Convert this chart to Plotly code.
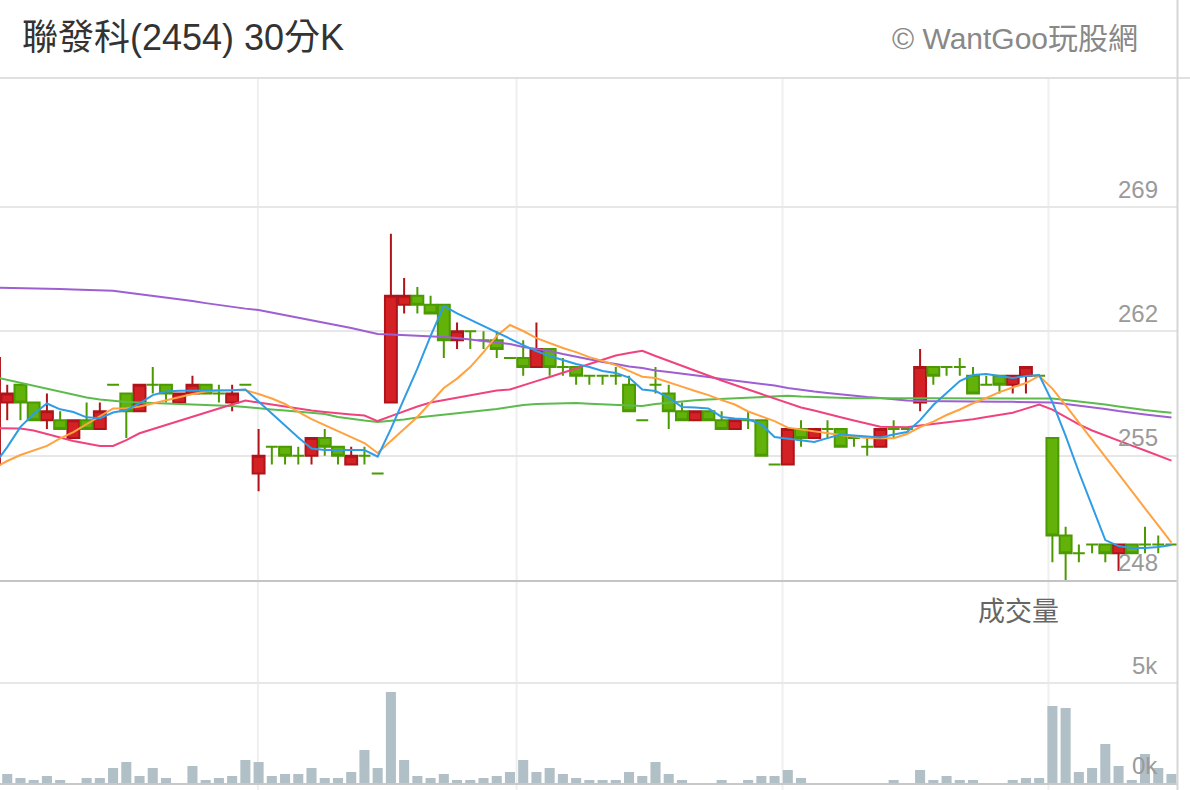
import plotly.graph_objects as go

# ---------------- data ----------------
opens = [254.5, 258, 259, 258, 257, 257, 256, 257, 256.5, 259,
         258.5, 257.5, 259, 259, 258, 258.5, 259, 258.5, 258, 259,
         254, 255.5, 255.5, 255, 255, 256, 255.5, 254.5, 255, 254,
         258, 263.5, 264, 263.5, 263.5, 261.5, 262, 261.5, 261.5, 260.5,
         260.5, 260, 261, 260, 260, 259.5, 259.5, 259.5, 259, 257,
         259, 258.5, 257.5, 257, 257.5, 257, 256.5, 257, 257, 254.5,
         254.5, 256.5, 256, 256.5, 256.5, 256, 255.5, 255.5, 256.5, 256.5,
         258, 260, 260, 260, 259.5, 259, 259.5, 259, 259.5, 259.5,
         256, 250.5, 249.5, 250, 250, 249.5, 250, 250, 250, 250]
highs = [261, 259, 259, 258, 258.5, 257.5, 257, 258, 258, 259,
         258.5, 259, 260, 259, 258.5, 259.5, 259, 259, 259, 259,
         256.5, 255.5, 255.5, 255.5, 256, 256.5, 255.5, 255.5, 255.5, 254,
         267.5, 265, 264.5, 264, 263.5, 262.5, 262, 262, 262, 260.5,
         261.5, 262.5, 261, 260.5, 260, 259.5, 259.5, 260, 259.5, 257,
         260, 259, 258, 257.5, 257.5, 257.5, 257, 257.5, 257, 254.5,
         256.5, 257, 256.5, 257, 256.5, 256, 256, 256.5, 257, 256.5,
         261, 260, 260, 260.5, 260, 259.5, 259.5, 259.5, 260, 259.5,
         256, 251, 250, 250, 250, 250, 250, 251, 250.5, 250]
lows = [254.5, 257, 257, 257, 256.5, 256.5, 256, 256.5, 256.5, 259,
        256, 257.5, 258.5, 258, 258, 258.5, 258.5, 258, 257.5, 259,
        253, 254.5, 254.5, 254.5, 254.5, 255, 254.5, 254.5, 254.5, 254,
        258, 263, 263, 263, 260.5, 261, 261, 261, 260.5, 260.5,
        259.5, 260, 259.5, 259.5, 259, 259, 259, 259, 257.5, 257,
        258.5, 256.5, 257, 257, 257, 256.5, 256.5, 256.5, 255, 254.5,
        254.5, 255.5, 256, 256, 255.5, 255.5, 255, 255.5, 256, 256.5,
        257.5, 259, 259.5, 259.5, 258.5, 259, 258.5, 258.5, 258.5, 259.5,
        249, 248, 249, 249.5, 249, 248.5, 249.5, 249.5, 249.5, 250]
closes = [260.5, 258.5, 258, 257, 257.5, 256.5, 257, 256.5, 257.5, 259,
          257.5, 259, 259, 258.5, 258.5, 259, 258.5, 258.5, 258.5, 259,
          255, 255.5, 255, 255, 256, 255.5, 255, 255, 255, 254,
          264, 264, 263.5, 263, 261.5, 262, 262, 261.5, 261, 260.5,
          260, 261, 260, 260, 259.5, 259.5, 259.5, 259.5, 257.5, 257,
          259, 257.5, 257, 257.5, 257, 256.5, 257, 257, 255, 254.5,
          256.5, 256, 256.5, 256.5, 255.5, 256, 255.5, 256.5, 256.5, 256.5,
          260, 259.5, 260, 260, 258.5, 259, 259, 259.5, 260, 259.5,
          250.5, 249.5, 249.5, 250, 249.5, 250, 249.5, 250, 250, 250]
volume_k = [2.3, 0.45, 0.25, 0.15, 0.35, 0.15, 0, 0.25, 0.25, 0.75,
            1.05, 0.35, 0.75, 0.25, 0, 0.85, 0.15, 0.25, 0.35, 1.15,
            1.05, 0.35, 0.45, 0.45, 0.75, 0.25, 0.25, 0.55, 1.65, 0.75,
            4.55, 1.15, 0.35, 0.25, 0.45, 0.15, 0.15, 0.25, 0.35, 0.55,
            1.15, 0.55, 0.75, 0.45, 0.25, 0.15, 0.15, 0.15, 0.55, 0.35,
            1.05, 0.45, 0.15, 0, 0, 0.15, 0, 0.15, 0.35, 0.35,
            0.65, 0.25, 0, 0, 0, 0, 0, 0, 0.15, 0,
            0.65, 0.15, 0.35, 0.15, 0.15, 0, 0, 0.15, 0.25, 0.25,
            3.85, 3.75, 0.55, 0.75, 1.95, 0.85, 0.15, 1.45, 0.75, 0.45]

ma_blue = [254.47, 255.48, 256.62, 257.35, 257.94, 257.61, 257.46, 257.16, 257.11, 257.43,
           257.57, 257.95, 258.41, 258.61, 258.66, 258.66, 258.67, 258.68, 258.69, 258.73,
           258.05, 257.37, 256.70, 256.02, 255.40, 255.32, 255.32, 255.32, 255.32, 254.94,
           256.51, 258.21, 259.90, 261.74, 263.43, 263.01, 262.65, 262.29, 261.91, 261.55,
           261.23, 260.89, 260.61, 260.39, 260.16, 259.99, 259.77, 259.66, 259.40, 258.72,
           258.64, 258.27, 257.74, 257.71, 257.66, 257.18, 257.09, 257.05, 256.77, 256.05,
           255.96, 255.86, 255.77, 255.99, 256.19, 256.13, 256.08, 256.03, 256.19, 256.33,
           257.00, 257.85, 258.53, 259.20, 259.54, 259.60, 259.49, 259.37, 259.49, 259.54,
           258.02, 256.11, 254.08, 252.17, 250.25, 249.91, 249.80, 249.80, 249.86, 249.97]
ma_orange = [254.31, 254.70, 255.04, 255.29, 255.55, 255.98, 256.33, 256.78, 257.23, 257.66,
             257.67, 257.77, 257.94, 258.13, 258.30, 258.47, 258.61, 258.67, 258.68, 258.69,
             258.47, 258.22, 257.91, 257.46, 257.06, 256.73, 256.36, 256.05, 255.71, 255.15,
             255.80, 256.50, 257.18, 258.02, 258.81, 259.34, 259.99, 260.83, 261.74, 262.36,
             262.02, 261.62, 261.34, 261.06, 260.83, 260.55, 260.33, 260.10, 259.77, 259.45,
             259.37, 259.15, 258.89, 258.64, 258.41, 258.13, 257.88, 257.49, 257.20, 256.95,
             256.58, 256.47, 256.36, 256.25, 256.16, 256.08, 255.99, 255.98, 255.98, 256.22,
             256.61, 256.92, 257.29, 257.60, 257.95, 258.25, 258.58, 258.84, 259.09, 259.49,
             258.78, 257.83, 256.84, 255.88, 254.93, 253.97, 252.98, 252.03, 251.07, 250.11]
ma_pink = [256.54, 256.54, 256.53, 256.42, 256.22, 256.00, 255.83, 255.69, 255.55, 255.55,
           255.88, 256.26, 256.50, 256.73, 256.95, 257.18, 257.43, 257.66, 257.88, 258.11,
           257.99, 257.88, 257.74, 257.65, 257.54, 257.46, 257.37, 257.32, 257.26, 256.95,
           257.23, 257.51, 257.77, 257.99, 258.13, 258.27, 258.41, 258.55, 258.67, 258.73,
           258.98, 259.20, 259.43, 259.65, 259.91, 260.16, 260.41, 260.64, 260.78, 260.91,
           260.61, 260.33, 260.05, 259.77, 259.49, 259.23, 258.98, 258.73, 258.47, 258.19,
           257.96, 257.71, 257.54, 257.37, 257.16, 256.98, 256.81, 256.63, 256.61, 256.60,
           256.70, 256.78, 256.89, 256.98, 257.05, 257.18, 257.29, 257.42, 257.65, 257.88,
           257.59, 257.19, 256.76, 256.42, 256.15, 255.88, 255.57, 255.29, 255.01, 254.72]
ma_green = [259.43, 259.27, 259.10, 258.93, 258.76, 258.60, 258.44, 258.27, 258.16, 258.08,
            258.02, 257.99, 257.96, 257.95, 257.94, 257.91, 257.88, 257.85, 257.80, 257.74,
            257.65, 257.60, 257.54, 257.49, 257.43, 257.35, 257.18, 257.07, 256.98, 256.90,
            256.95, 257.04, 257.15, 257.23, 257.32, 257.40, 257.46, 257.53, 257.63, 257.74,
            257.85, 257.91, 257.94, 257.96, 257.96, 257.92, 257.89, 257.85, 257.82, 257.80,
            257.91, 257.99, 258.05, 258.12, 258.16, 258.20, 258.24, 258.27, 258.30, 258.36,
            258.37, 258.33, 258.30, 258.27, 258.26, 258.24, 258.24, 258.23, 258.23, 258.23,
            258.24, 258.24, 258.24, 258.24, 258.24, 258.25, 258.26, 258.26, 258.26, 258.26,
            258.22, 258.13, 258.05, 257.98, 257.88, 257.77, 257.65, 257.57, 257.49, 257.42]
ma_purple = [264.47, 264.46, 264.44, 264.42, 264.41, 264.38, 264.36, 264.33, 264.31, 264.29,
             264.19, 264.10, 264.02, 263.92, 263.82, 263.71, 263.59, 263.48, 263.37, 263.28,
             263.20, 263.06, 262.92, 262.78, 262.64, 262.50, 262.36, 262.19, 262.02, 261.85,
             261.82, 261.79, 261.75, 261.72, 261.68, 261.62, 261.54, 261.46, 261.37, 261.29,
             261.12, 261.01, 260.89, 260.72, 260.56, 260.44, 260.27, 260.16, 260.02, 259.94,
             259.80, 259.71, 259.63, 259.54, 259.43, 259.32, 259.23, 259.15, 259.06, 258.95,
             258.81, 258.70, 258.61, 258.53, 258.44, 258.39, 258.30, 258.25, 258.16, 258.11,
             258.08, 258.08, 258.08, 258.07, 258.06, 258.05, 258.04, 258.03, 258.02, 258.02,
             257.99, 257.91, 257.82, 257.74, 257.63, 257.51, 257.40, 257.32, 257.23, 257.15]

price_ticks = [248, 255, 262, 269]
volume_ticks = [0, 5]
volume_tick_labels = ["0k", "5k"]
title_text = "聯發科(2454) 30分K"
watermark_text = "© WantGoo玩股網"
volume_title = "成交量"

# ---------------- styling ----------------
W, H = 1190, 790
N = len(closes)
x = list(range(N))
RED_FILL, RED_LINE = "#d42126", "#ae141a"
GRN_FILL, GRN_LINE = "#62b20a", "#4c9a02"
FONT = "Liberation Sans, Arial, Noto Sans CJK TC, sans-serif"

up = [c > o for o, c in zip(opens, closes)]
down = [not u for u in up]


def pick(vals, mask):
    return [v if m else None for v, m in zip(vals, mask)]


fig = go.Figure()

# moving averages (drawn below candles)
for vals, col in [(ma_purple, "#9d5fd2"), (ma_green, "#5dbb4d"), (ma_pink, "#f0437d"),
                  (ma_orange, "#ffa23f"), (ma_blue, "#2f9ce6")]:
    fig.add_trace(go.Scatter(x=x, y=vals, mode="lines", line=dict(color=col, width=2),
                             hoverinfo="skip", showlegend=False, xaxis="x", yaxis="y"))

# up candles (red)
fig.add_trace(go.Candlestick(
    x=x, open=pick(opens, up), high=pick(highs, up), low=pick(lows, up), close=pick(closes, up),
    increasing=dict(fillcolor=RED_FILL, line=dict(color=RED_LINE, width=2)),
    decreasing=dict(fillcolor=RED_FILL, line=dict(color=RED_LINE, width=2)),
    showlegend=False, xaxis="x", yaxis="y"))
# down / flat candles (green)
fig.add_trace(go.Candlestick(
    x=x, open=pick(opens, down), high=pick(highs, down), low=pick(lows, down), close=pick(closes, down),
    increasing=dict(fillcolor=GRN_FILL, line=dict(color=GRN_LINE, width=2)),
    decreasing=dict(fillcolor=GRN_FILL, line=dict(color=GRN_LINE, width=2)),
    showlegend=False, xaxis="x", yaxis="y"))

# volume
fig.add_trace(go.Bar(x=x, y=volume_k, marker=dict(color="#b1bfc7", line=dict(width=0)),
                     width=0.76, showlegend=False, xaxis="x2", yaxis="y2", hoverinfo="skip"))

step_px = 13.23
plot_w = W - 12
x0 = 6 / step_px
x1 = x0 + plot_w / step_px

main_dom = [210 / H, 712 / H]
vol_dom = [7 / H, 200 / H]
px_per_unit = 17.76
y_top = 248 + (712 - 210) / px_per_unit

fig.update_layout(
    width=W, height=H,
    margin=dict(l=0, r=12, t=0, b=0),
    paper_bgcolor="white", plot_bgcolor="white",
    boxgap=0.1, boxgroupgap=0,
    xaxis=dict(domain=[0, 1], range=[x0, x1], showticklabels=False, showgrid=False,
               zeroline=False, showline=True, linecolor="#c4c4c4", linewidth=2,
               ticks="", rangeslider=dict(visible=False), anchor="y"),
    yaxis=dict(domain=main_dom, range=[248, y_top], tickvals=price_ticks,
               showticklabels=False, gridcolor="#e7e7e7", gridwidth=2, zeroline=False,
               showline=False, ticks=""),
    xaxis2=dict(domain=[0, 1], range=[x0, x1], matches="x", showticklabels=False,
                showgrid=False, zeroline=False, showline=True, linecolor="#c8c8c8",
                linewidth=2, ticks="", anchor="y2"),
    yaxis2=dict(domain=vol_dom, range=[0, (783 - 590) / 20.0], tickvals=volume_ticks,
                showticklabels=False, gridcolor="#e7e7e7", gridwidth=2, zeroline=False,
                showline=False, ticks=""),
    font=dict(family=FONT),
)

# vertical grid lines spanning both panels
for gx in [19.95, 39.5, 59.6, 79.7]:
    fig.add_shape(type="line", xref="x", yref="paper", x0=gx, x1=gx, y0=0, y1=main_dom[1],
                  line=dict(color="#efefef", width=2), layer="below")
# header separator and right border
fig.add_shape(type="line", xref="paper", yref="paper", x0=0, x1=W / plot_w,
              y0=main_dom[1], y1=main_dom[1], line=dict(color="#e0e0e0", width=2))
fig.add_shape(type="line", xref="paper", yref="paper", x0=1 - 0.5 / plot_w, x1=1 - 0.5 / plot_w,
              y0=0, y1=1, line=dict(color="#d6d6d6", width=2))

# price labels
for t in price_ticks:
    fig.add_annotation(x=1160 / plot_w, xref="paper", y=t, yref="y", text=str(t),
                       showarrow=False, xanchor="right", yanchor="middle", yshift=18,
                       font=dict(size=24, color="#9a9a9a", family=FONT))
for t, lab in zip(volume_ticks, volume_tick_labels):
    fig.add_annotation(x=1160 / plot_w, xref="paper", y=t, yref="y2", text=lab,
                       showarrow=False, xanchor="right", yanchor="middle", yshift=17.5,
                       font=dict(size=24, color="#9a9a9a", family=FONT))

fig.add_annotation(x=1018 / plot_w, xref="paper", y=(H - 609) / H, yref="paper",
                   text=volume_title, showarrow=False, xanchor="center", yanchor="middle",
                   font=dict(size=27, color="#666666", family="Noto Sans CJK TC, sans-serif"))
fig.add_annotation(x=20 / plot_w, xref="paper", y=(H - 37) / H, yref="paper",
                   text=title_text, showarrow=False, xanchor="left", yanchor="middle",
                   font=dict(size=36, color="#333333", family=FONT))
fig.add_annotation(x=1140 / plot_w, xref="paper", y=(H - 38) / H, yref="paper",
                   text=watermark_text, showarrow=False, xanchor="right", yanchor="middle",
                   font=dict(size=30, color="#888888", family=FONT))

fig.write_html("out.html", config={"displayModeBar": False},
               post_script="document.body.style.margin='0px';document.body.style.overflow='hidden';")
